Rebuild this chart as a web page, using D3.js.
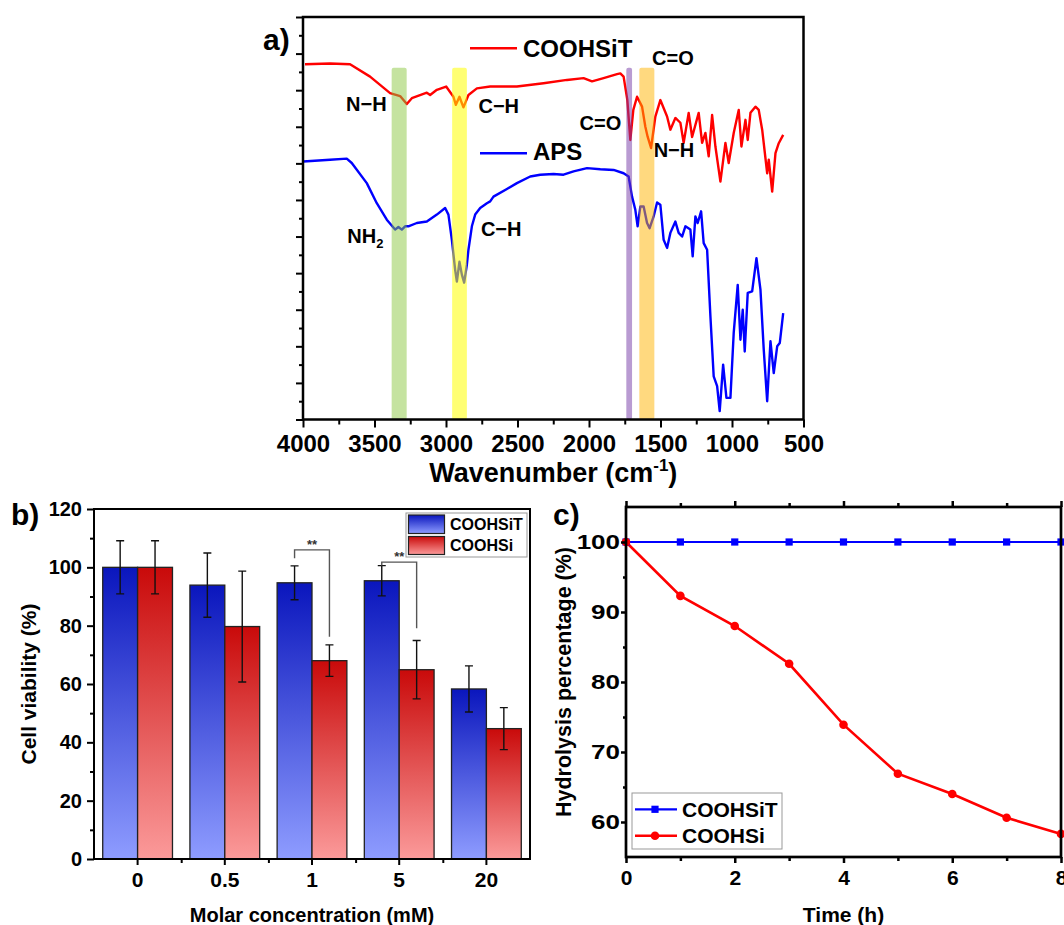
<!DOCTYPE html>
<html><head><meta charset="utf-8">
<script src="https://cdn.jsdelivr.net/npm/d3@7"></script>
<style>
body{margin:0;background:#fff}
svg{display:block}
text{font-family:"Liberation Sans",Arial,sans-serif;font-weight:bold;fill:#000}
</style>
</head><body>
<svg id="chart" width="1064" height="925"></svg>
<script>
// ---------------- DATA ----------------
// Panel a: FTIR spectra [wavenumber (cm-1), transmittance (a.u.)]
const coohsitSpectrum = [[3986,9.71],[3811,9.73],[3671,9.71],[3531,9.37],[3391,8.92],[3321,8.84],[3274,8.62],[3239,8.78],[3134,8.93],[3111,8.87],[3064,9.01],[2999,9.10],[2948,8.82],[2931,8.60],[2906,8.82],[2878,8.53],[2843,8.87],[2784,9.05],[2691,9.10],[2504,9.10],[2318,9.19],[2154,9.28],[2038,9.33],[1979,9.24],[1898,9.33],[1804,9.44],[1781,9.46],[1758,9.37],[1732,8.73],[1711,7.64],[1690,8.46],[1664,8.82],[1629,8.55],[1606,8.00],[1590,7.73],[1566,7.42],[1536,8.28],[1501,8.73],[1454,8.28],[1431,7.92],[1396,8.24],[1361,8.11],[1338,7.56],[1303,8.38],[1279,7.72],[1233,8.38],[1209,7.56],[1186,7.83],[1163,7.19],[1139,8.32],[1116,7.46],[1081,6.50],[1046,7.56],[1023,7.01],[988,7.83],[953,8.46],[934,7.46],[906,8.19],[890,7.64],[871,8.38],[836,8.55],[813,8.46],[789,7.92],[754,6.73],[743,7.10],[719,6.23],[696,7.28],[673,7.55],[642,7.78]];
const apsSpectrum = [[3998,7.05],[3811,7.10],[3694,7.13],[3659,7.01],[3554,6.46],[3484,5.91],[3414,5.46],[3356,5.19],[3333,5.26],[3309,5.19],[3286,5.28],[3263,5.28],[3204,5.37],[3134,5.41],[3064,5.60],[3006,5.78],[2983,5.60],[2959,4.91],[2936,4.09],[2924,3.77],[2906,4.31],[2889,3.96],[2873,3.74],[2854,4.23],[2843,4.64],[2819,5.28],[2796,5.60],[2761,5.78],[2714,5.91],[2691,5.96],[2668,6.09],[2574,6.30],[2504,6.46],[2411,6.64],[2341,6.69],[2248,6.71],[2178,6.69],[2108,6.78],[2014,6.87],[1921,6.84],[1828,6.82],[1758,6.73],[1723,6.64],[1699,6.09],[1676,5.73],[1660,5.28],[1641,5.82],[1618,5.82],[1594,5.37],[1576,5.23],[1548,5.55],[1524,5.93],[1501,5.87],[1478,4.91],[1454,4.69],[1431,5.10],[1396,5.41],[1373,5.10],[1349,5.00],[1326,5.28],[1291,5.19],[1275,4.46],[1256,5.55],[1240,5.37],[1216,5.69],[1198,4.82],[1174,4.64],[1151,2.82],[1128,1.18],[1104,0.91],[1086,0.23],[1062,1.50],[1039,0.59],[1011,0.59],[988,2.37],[960,3.68],[941,2.18],[925,3.00],[911,1.86],[890,3.46],[859,3.50],[829,4.41],[801,3.55],[778,1.91],[754,0.50],[731,2.14],[708,1.27],[684,2.00],[666,2.09],[642,2.91]];
const bandRanges = [[3380,3275],[2957,2854],[1739,1699],[1648,1543]];
const bandTopValue = 9.61;
const peakLabels = [
  {text:"N\u2212H", wn:3699, v:8.43},
  {text:"C\u2212H", wn:2773, v:8.37},
  {text:"C=O", wn:2066, v:7.91},
  {text:"C=O", wn:1559, v:9.69},
  {text:"N\u2212H", wn:1548, v:7.18},
  {text:"NH", sub:"2", wn:3690, v:4.82},
  {text:"C\u2212H", wn:2756, v:5.02}
];
const irXTicks = [4000,3500,3000,2500,2000,1500,1000,500];

// Panel b: cell viability
const concentrations = ["0","0.5","1","5","20"];
const viabilityCOOHSiT = [100,93.9,94.7,95.4,58.3];
const viabilityCOOHSi = [100,79.7,68.0,64.9,44.7];
const errorCOOHSiT = [9.1,11.0,5.8,5.2,7.9];
const errorCOOHSi = [9.1,19.0,5.4,10.0,7.2];
const significance = [
  {index:2, top:106.0, leftEnd:103.1, rightEnd:76.2, label:"**"},
  {index:3, top:101.8, leftEnd:100.6, rightEnd:79.1, label:"**"}
];
const viabilityTicks = [0,20,40,60,80,100,120];

// Panel c: hydrolysis
const timeHours = [0,1,2,3,4,5,6,7,8];
const hydrolysisCOOHSiT = [100,100,100,100,100,100,100,100,100];
const hydrolysisCOOHSi = [100,92.3,88.0,82.6,73.9,66.9,64.0,60.6,58.3];
const hydrolysisTicks = [60,70,80,90,100];
const timeTicks = [0,2,4,6,8];

// ---------------- STYLES ----------------
const bandColors = ["#8bc741","#ffff00","#7337a5","#ffb400"];
const bandOpacity = [0.5,0.55,0.5,0.5];

const svg = d3.select("#chart");
svg.append("rect").attr("width",1064).attr("height",925).attr("fill","#fff");
const defs = svg.append("defs");
function grad(id, top, bottom){
  const g = defs.append("linearGradient").attr("id",id).attr("x1",0).attr("y1",0).attr("x2",0).attr("y2",1);
  g.append("stop").attr("offset",0).attr("stop-color",top);
  g.append("stop").attr("offset",1).attr("stop-color",bottom);
}
grad("gBlue","#0a16bd","#8e9cff");
grad("gRed","#c90a0a","#fb9a9a");

function styleTicks(g, w){
  g.select(".domain").remove();
  g.selectAll(".tick line").attr("stroke","#000").attr("stroke-width",w);
}

// ================= PANEL A =================
const A = {l:303, r:803.5, t:17, b:419.5};
const xA = d3.scaleLinear().domain([4000,500]).range([A.l,A.r]);
const yA = d3.scaleLinear().domain([0,11]).range([A.b,A.t]);
const gA = svg.append("g");
const lineA = d3.line().x(d=>xA(d[0])).y(d=>yA(d[1])).curve(d3.curveLinear);
gA.append("path").datum(apsSpectrum).attr("d",lineA).attr("fill","none")
  .attr("stroke","#0000ff").attr("stroke-width",2.4).attr("stroke-linejoin","round");
gA.append("path").datum(coohsitSpectrum).attr("d",lineA).attr("fill","none")
  .attr("stroke","#ff0000").attr("stroke-width",2.4).attr("stroke-linejoin","round");
bandRanges.forEach((b,i)=>{
  gA.append("rect").attr("x",xA(b[0])).attr("width",xA(b[1])-xA(b[0]))
    .attr("y",yA(bandTopValue)).attr("height",yA(0)-yA(bandTopValue))
    .attr("rx",2).attr("fill",bandColors[i]).attr("fill-opacity",bandOpacity[i]);
});
// axes
const axA = gA.append("g").attr("transform",`translate(0,${A.b})`)
  .call(d3.axisBottom(xA).tickValues(irXTicks).tickSize(8).tickPadding(7).tickFormat(d3.format("d")));
styleTicks(axA,2);
axA.selectAll("text").attr("font-size",24);
const axAm = gA.append("g").attr("transform",`translate(0,${A.b})`)
  .call(d3.axisBottom(xA).tickValues(irXTicks.slice(0,-1).map(d=>d-250)).tickSize(5).tickFormat(""));
styleTicks(axAm,2);
const ayA = gA.append("g").attr("transform",`translate(${A.l},0)`)
  .call(d3.axisLeft(yA).tickValues(d3.range(0,11.01,1)).tickSize(7).tickFormat(""));
styleTicks(ayA,2);
const ayAm = gA.append("g").attr("transform",`translate(${A.l},0)`)
  .call(d3.axisLeft(yA).tickValues(d3.range(0.5,11,1)).tickSize(4).tickFormat(""));
styleTicks(ayAm,2);
gA.append("rect").attr("x",A.l).attr("y",A.t).attr("width",A.r-A.l).attr("height",A.b-A.t)
  .attr("fill","none").attr("stroke","#000").attr("stroke-width",2.5);
// peak labels
peakLabels.forEach(p=>{
  const t = gA.append("text").attr("x",xA(p.wn)).attr("y",yA(p.v)).attr("font-size",20).text(p.text);
  if(p.sub) t.append("tspan").attr("font-size",13).attr("dy",5).text(p.sub);
});
// legend a
gA.append("line").attr("x1",470).attr("x2",517).attr("y1",48.3).attr("y2",48.3).attr("stroke","#ff0000").attr("stroke-width",2.5);
gA.append("text").attr("x",523).attr("y",56.5).attr("font-size",24).text("COOHSiT");
gA.append("line").attr("x1",480).attr("x2",527).attr("y1",153.3).attr("y2",153.3).attr("stroke","#0000ff").attr("stroke-width",2.5);
gA.append("text").attr("x",533).attr("y",159.5).attr("font-size",24).text("APS");
// titles
const tA = gA.append("text").attr("x",(A.l+A.r)/2).attr("y",482).attr("text-anchor","middle").attr("font-size",27);
tA.append("tspan").text("Wavenumber (cm");
tA.append("tspan").attr("font-size",17).attr("dy",-11).text("-1");
tA.append("tspan").attr("dy",11).text(")");
gA.append("text").attr("x",263).attr("y",50).attr("font-size",30).text("a)");

// ================= PANEL B =================
const B = {l:94, r:530, t:509, b:859};
const xB = d3.scaleBand().domain(concentrations).range([B.l,B.r]).padding(0);
const yB = d3.scaleLinear().domain([0,120]).range([B.b,B.t]);
const gB = svg.append("g");
const bw = xB.bandwidth()*0.4;
const cx = c => xB(c)+xB.bandwidth()/2;
concentrations.forEach((c,i)=>{
  gB.append("rect").attr("x",cx(c)-bw).attr("width",bw).attr("y",yB(viabilityCOOHSiT[i]))
    .attr("height",yB(0)-yB(viabilityCOOHSiT[i])).attr("fill","url(#gBlue)").attr("stroke","#222").attr("stroke-width",1.3);
  gB.append("rect").attr("x",cx(c)).attr("width",bw).attr("y",yB(viabilityCOOHSi[i]))
    .attr("height",yB(0)-yB(viabilityCOOHSi[i])).attr("fill","url(#gRed)").attr("stroke","#222").attr("stroke-width",1.3);
});
function errBar(x,v,e){
  gB.append("path").attr("d",`M${x},${yB(v+e)}V${yB(v-e)}M${x-4},${yB(v+e)}H${x+4}M${x-4},${yB(v-e)}H${x+4}`)
    .attr("stroke","#111").attr("stroke-width",1.4).attr("fill","none");
}
concentrations.forEach((c,i)=>{
  errBar(cx(c)-bw/2, viabilityCOOHSiT[i], errorCOOHSiT[i]);
  errBar(cx(c)+bw/2, viabilityCOOHSi[i], errorCOOHSi[i]);
});
significance.forEach(s=>{
  const c = concentrations[s.index];
  const xl = cx(c)-bw/2, xr = cx(c)+bw/2;
  gB.append("path").attr("d",`M${xl},${yB(s.leftEnd)}V${yB(s.top)}H${xr}V${yB(s.rightEnd)}`)
    .attr("stroke","#555").attr("stroke-width",1.4).attr("fill","none");
  gB.append("text").attr("x",(xl+xr)/2).attr("y",yB(s.top)-1).attr("text-anchor","middle")
    .attr("font-size",13).attr("font-weight","normal").style("fill","#333").text(s.label);
});
const axB = gB.append("g").attr("transform",`translate(0,${B.b})`)
  .call(d3.axisBottom(xB).tickSize(6).tickPadding(7));
styleTicks(axB,2);
axB.selectAll("text").attr("font-size",21);
const axBm = gB.append("g").attr("transform",`translate(0,${B.b})`)
  .call(d3.axisBottom(d3.scaleLinear().domain([0,5]).range([B.l,B.r])).tickValues([1,2,3,4]).tickSize(4).tickFormat(""));
styleTicks(axBm,2);
const ayB = gB.append("g").attr("transform",`translate(${B.l},0)`)
  .call(d3.axisLeft(yB).tickValues(viabilityTicks).tickSize(7).tickPadding(5));
styleTicks(ayB,2);
ayB.selectAll("text").attr("font-size",20);
const ayBm = gB.append("g").attr("transform",`translate(${B.l},0)`)
  .call(d3.axisLeft(yB).tickValues(d3.range(10,120,20)).tickSize(4).tickFormat(""));
styleTicks(ayBm,2);
gB.append("rect").attr("x",B.l).attr("y",B.t).attr("width",B.r-B.l).attr("height",B.b-B.t)
  .attr("fill","none").attr("stroke","#000").attr("stroke-width",2);
// legend b
const lgB = gB.append("g");
lgB.append("rect").attr("x",406).attr("y",513).attr("width",121).attr("height",44).attr("fill","#fff").attr("stroke","#999").attr("stroke-width",1);
lgB.append("rect").attr("x",408.5).attr("y",515).attr("width",36).attr("height",18.5).attr("fill","url(#gBlue)").attr("stroke","#222").attr("stroke-width",1.2);
lgB.append("rect").attr("x",408.5).attr("y",536.5).attr("width",36).attr("height",18).attr("fill","url(#gRed)").attr("stroke","#222").attr("stroke-width",1.2);
lgB.append("text").attr("x",450).attr("y",530).attr("font-size",16).text("COOHSiT");
lgB.append("text").attr("x",450).attr("y",551).attr("font-size",16).text("COOHSi");
gB.append("text").attr("transform",`translate(36,${(B.t+B.b)/2}) rotate(-90)`).attr("text-anchor","middle").attr("font-size",21).text("Cell viability (%)");
gB.append("text").attr("x",(B.l+B.r)/2).attr("y",922).attr("text-anchor","middle").attr("font-size",20).text("Molar concentration (mM)");
gB.append("text").attr("x",11).attr("y",525).attr("font-size",30).text("b)");

// ================= PANEL C =================
const C = {l:626, r:1061, t:507, b:857};
const xC = d3.scaleLinear().domain([0,8]).range([C.l,C.r]);
const yC = d3.scaleLinear().domain([55,105]).range([C.b,C.t]);
const gC = svg.append("g");
const lineC = d3.line().x((d,i)=>xC(timeHours[i])).y(d=>yC(d));
gC.append("path").datum(hydrolysisCOOHSiT).attr("d",lineC).attr("fill","none").attr("stroke","#0000ff").attr("stroke-width",2.2);
gC.append("path").datum(hydrolysisCOOHSi).attr("d",lineC).attr("fill","none").attr("stroke","#ff0000").attr("stroke-width",2.6);
gC.selectAll(".sq").data(hydrolysisCOOHSiT).enter().append("rect")
  .attr("x",(d,i)=>xC(timeHours[i])-3.6).attr("y",d=>yC(d)-3.6).attr("width",7.2).attr("height",7.2).attr("fill","#0000ff");
gC.selectAll(".ci").data(hydrolysisCOOHSi).enter().append("circle")
  .attr("cx",(d,i)=>xC(timeHours[i])).attr("cy",d=>yC(d)).attr("r",4.3).attr("fill","#ff0000");
// axes
const axC = gC.append("g").attr("transform",`translate(0,${C.b})`)
  .call(d3.axisBottom(xC).tickValues(timeTicks).tickSize(6).tickPadding(7));
styleTicks(axC,2.5);
axC.selectAll("text").attr("font-size",21);
const axCm = gC.append("g").attr("transform",`translate(0,${C.b})`)
  .call(d3.axisBottom(xC).tickValues([1,3,5,7]).tickSize(4).tickFormat(""));
styleTicks(axCm,2.5);
const atC = gC.append("g").attr("transform",`translate(0,${C.t})`)
  .call(d3.axisTop(xC).tickValues(timeTicks).tickSize(6).tickFormat(""));
styleTicks(atC,2.5);
const atCm = gC.append("g").attr("transform",`translate(0,${C.t})`)
  .call(d3.axisTop(xC).tickValues([1,3,5,7]).tickSize(4).tickFormat(""));
styleTicks(atCm,2.5);
const ayC = gC.append("g").attr("transform",`translate(${C.l},0)`)
  .call(d3.axisLeft(yC).tickValues(hydrolysisTicks).tickSize(5).tickPadding(1));
styleTicks(ayC,2.5);
const sx = 1.3;
ayC.selectAll("text").attr("font-size",20).attr("x",-6/sx).attr("transform",`scale(${sx},1)`);
const ayCm = gC.append("g").attr("transform",`translate(${C.l},0)`)
  .call(d3.axisLeft(yC).tickValues([65,75,85,95]).tickSize(3).tickFormat(""));
styleTicks(ayCm,2.5);
gC.append("rect").attr("x",C.l).attr("y",C.t).attr("width",C.r-C.l).attr("height",C.b-C.t)
  .attr("fill","none").attr("stroke","#000").attr("stroke-width",2.7);
// legend c
const lgC = gC.append("g");
lgC.append("rect").attr("x",632).attr("y",793).attr("width",150).attr("height",56).attr("fill","#fff").attr("stroke","#999").attr("stroke-width",1);
lgC.append("line").attr("x1",635).attr("x2",677).attr("y1",809.3).attr("y2",809.3).attr("stroke","#0000ff").attr("stroke-width",2.2);
lgC.append("rect").attr("x",655-3.6).attr("y",809.3-3.6).attr("width",7.2).attr("height",7.2).attr("fill","#0000ff");
lgC.append("line").attr("x1",635).attr("x2",677).attr("y1",835.7).attr("y2",835.7).attr("stroke","#ff0000").attr("stroke-width",2.6);
lgC.append("circle").attr("cx",655).attr("cy",835.7).attr("r",4.3).attr("fill","#ff0000");
lgC.append("text").attr("x",682).attr("y",817).attr("font-size",21).text("COOHSiT");
lgC.append("text").attr("x",682).attr("y",843).attr("font-size",21).text("COOHSi");
gC.append("text").attr("transform",`translate(571,${(C.t+C.b)/2}) rotate(-90)`).attr("text-anchor","middle").attr("font-size",21.5).text("Hydrolysis percentage (%)");
gC.append("text").attr("x",(C.l+C.r)/2).attr("y",922).attr("text-anchor","middle").attr("font-size",21).text("Time (h)");
gC.append("text").attr("x",553).attr("y",525).attr("font-size",30).text("c)");
</script>
</body></html>
